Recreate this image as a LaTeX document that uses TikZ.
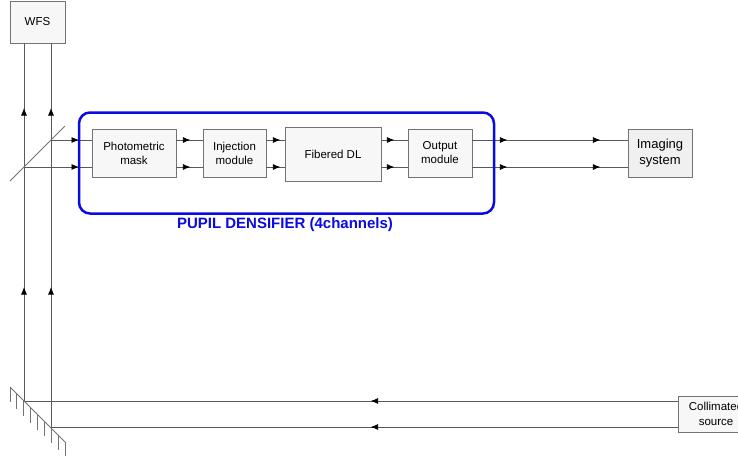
\documentclass[tikz,border=0pt]{standalone}
\usepackage{fontspec}
\setmainfont{Liberation Sans}
\usetikzlibrary{arrows.meta,decorations.markings}
\definecolor{ln}{gray}{0.35}
\definecolor{bx}{gray}{0.45}
\definecolor{pblue}{RGB}{10,10,225}
\begin{document}
\begin{tikzpicture}[x=1pt,y=-1pt,
  box/.style={draw=bx, fill=black!3, line width=0.8pt, inner sep=0pt, align=center, font=\fontsize{11.5}{14}\selectfont},
  beam/.style={draw=ln, line width=0.8pt},
  optic/.style={draw=black!55, line width=0.8pt},
  arrat/.style={postaction={decorate,decoration={markings,mark=at position #1 with {\arrow{Latex[length=7.5pt,width=6pt,black]}}}}},
  densbox/.style={draw=pblue, line width=2.5pt, rounded corners=11pt, inner sep=0pt},
]
\useasboundingbox (0,0) rectangle (738,455);
\fill[white] (0,0) rectangle (738,455);

% boxes
\node[box, minimum width=55pt, minimum height=42pt] (wfs) at (37.5,22) {WFS};
\node[box, minimum width=84pt, minimum height=48pt] (pm) at (134,153) {Photometric\\mask};
\node[box, minimum width=63pt, minimum height=48pt] (inj) at (234.5,153) {Injection\\module};
\node[box, minimum width=96pt, minimum height=54pt] (fib) at (333,154) {Fibered DL};
\node[box, minimum width=64pt, minimum height=48pt] (out) at (440,153) {Output\\module};
\node[box, fill=black!6, minimum width=64pt, minimum height=48pt, font=\fontsize{13}{16}\selectfont] (img) at (660,153) {Imaging\\system};
\node[box, minimum width=76pt, minimum height=36pt, font=\fontsize{11.5}{15}\selectfont] (col) at (716,414) {Collimated\\source};

% key points
\coordinate (m1) at (24,401);
\coordinate (m2) at (51,427);
\coordinate (s1) at (51,140);
\coordinate (s2) at (24,167);

% vertical beams
\draw[beam, arrat=114pt, arrat=293pt] (m1) -- (m1 |- wfs.south);
\draw[beam, arrat=140pt, arrat=319pt] (m2) -- (m2 |- wfs.south);

% horizontal beams
\draw[beam, arrat=28pt] (s1) -- (s1 -| pm.west);
\draw[beam, arrat=55pt] (s2) -- (s2 -| pm.west);
\foreach \s in {s1,s2} {
  \draw[beam, arrat=14pt] (pm.east |- \s) -- (inj.west |- \s);
  \draw[beam, arrat=14pt] (inj.east |- \s) -- (fib.west |- \s);
  \draw[beam, arrat=13pt] (fib.east |- \s) -- (out.west |- \s);
  \draw[beam, arrat=35pt, arrat=128pt] (out.east |- \s) -- (img.west |- \s);
}

% source beams
\draw[beam, arrat=307pt] (col.west |- m1) -- (m1);
\draw[beam, arrat=307pt] (col.west |- m2) -- (m2);

% beam splitter
\draw[optic] (65,126) -- (10,181);

% mirror
\draw[optic] (10,387) -- (65,442);
\foreach \k in {0,...,8} {
  \pgfmathsetmacro\xx{10+\k*6.875}
  \draw[optic] (\xx,{377+\xx}) -- (\xx,{392+\xx});
}

% pupil densifier
\node[densbox, minimum width=415pt, minimum height=101pt] (dens) at (286.5,163) {};
\node[text=pblue, font=\bfseries\fontsize{15}{18}\selectfont] (lbl) at (285,225) {PUPIL DENSIFIER (4channels)};
\end{tikzpicture}
\end{document}
